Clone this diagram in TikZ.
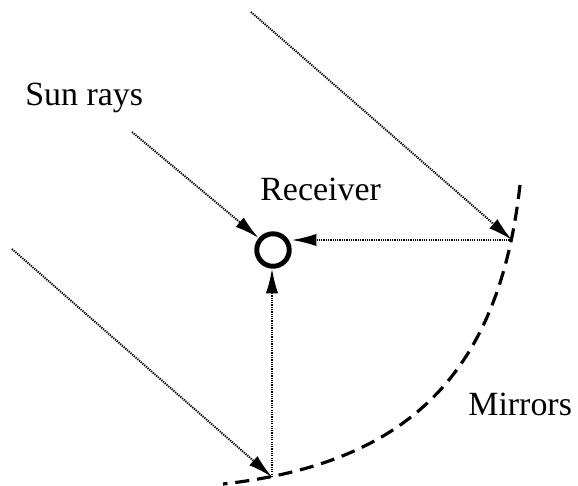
\documentclass[tikz,border=0pt]{standalone}
\usepackage{fontspec}
\setmainfont{Liberation Serif}
\usetikzlibrary{arrows.meta,calc}

\begin{document}
\begin{tikzpicture}[x=0.02cm,y=-0.02cm,
  >={Latex[length=14pt,width=7pt]},
  raggio/.style={->,line width=1.1pt,dash pattern=on 0.7pt off 0.6pt,black},
  specchio/.style={line width=1.8pt,dash pattern=on 8pt off 4.5pt},
  etichetta/.style={anchor=base west,inner sep=0pt,font=\rmfamily\fontsize{19.3}{23}\selectfont}]
  \useasboundingbox (0,0) rectangle (578,485);
  % ricevitore
  \node[circle,draw,line width=2.8pt,minimum size=18.5pt,inner sep=0pt] (recv) at (273,250) {};
  % punti sugli specchi e origini dei raggi
  \coordinate (mB) at (512,240);
  \coordinate (mE) at (272,477);
  \coordinate (s1) at (251,12);
  \coordinate (s2) at (132,132);
  \coordinate (s3) at (12,249);
  % specchi
  \draw[specchio] (520,185) .. controls (499,372) and (410,463) .. (223,484);
  % raggi del sole
  \draw[raggio] (s1) -- (mB);
  \draw[raggio] (s2) -- (recv);
  \draw[raggio] (s3) -- (mE);
  % raggi riflessi
  \draw[raggio] (mB) -- (recv.east |- mB);
  \draw[raggio] (mE) -- (mE |- recv.south);
  \node[etichetta] (sun) at (25,105) {Sun rays};
  \node[etichetta] (rec) at (260,200) {Receiver};
  \node[etichetta] (mir) at (468,415) {Mirrors};
\end{tikzpicture}
\end{document}
